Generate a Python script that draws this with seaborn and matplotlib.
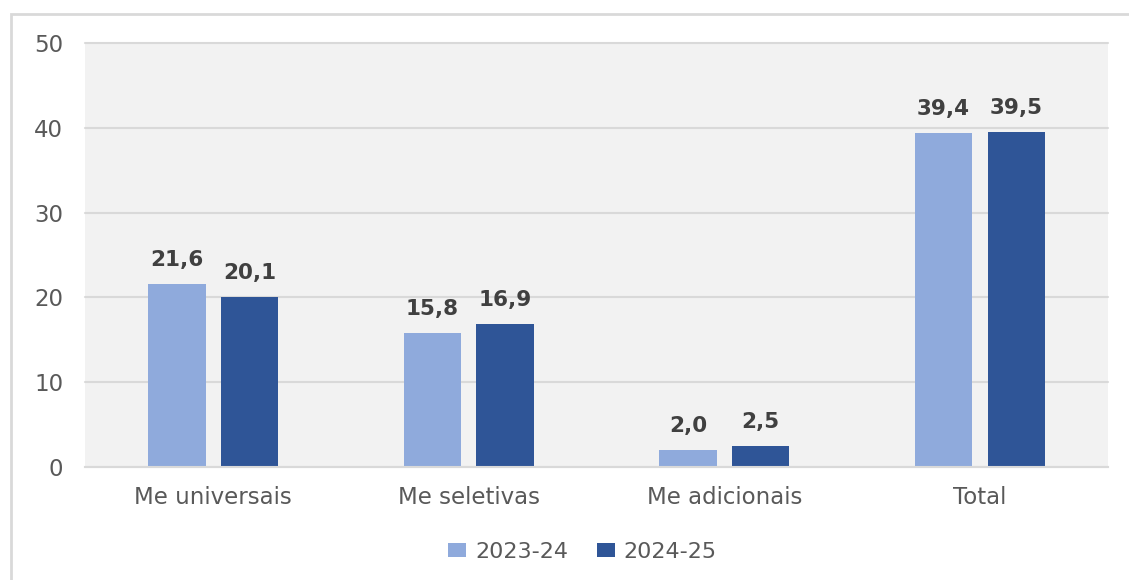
import pandas as pd
import seaborn as sns
import matplotlib.pyplot as plt
from matplotlib.patches import Rectangle

# values
categories = ['Me universais', 'Me seletivas', 'Me adicionais', 'Total']
years = ['2023-24', '2024-25']
vals_2023 = [21.6, 15.8, 2.0, 39.4]
vals_2024 = [20.1, 16.9, 2.5, 39.5]
colors = ['#8FAADC', '#2F5597']

df = pd.DataFrame({
    'Categoria': categories * 2,
    'Ano': [years[0]] * len(categories) + [years[1]] * len(categories),
    'Valor': vals_2023 + vals_2024,
})

sns.set_style('white')
plt.rcParams['font.family'] = ['DejaVu Sans']

fig = plt.figure(figsize=(11.29, 5.80), dpi=100)
ax = fig.add_axes([0.0756, 0.1948, 0.9055, 0.7310])
ax.set_facecolor('#F2F2F2')

sns.barplot(data=df, x='Categoria', y='Valor', hue='Ano', palette=colors,
            saturation=1, width=0.569, gap=0.21, linewidth=0, ax=ax)

for cont in ax.containers:
    ax.bar_label(cont, labels=[f'{v:.1f}'.replace('.', ',') for v in cont.datavalues],
                 padding=10, fontsize=15.5, fontweight='bold', color='#404040')

ax.set_ylim(0, 50)
ax.set_xlim(-0.5, 3.5)
ax.set_yticks(range(0, 51, 10))
ax.set_xlabel('')
ax.set_ylabel('')
ax.yaxis.grid(True, color='#D9D9D9', linewidth=1.5)
for gl in ax.get_ygridlines():
    gl.set_clip_on(False)
ax.set_axisbelow(True)
for s in ['top', 'right', 'left']:
    ax.spines[s].set_visible(False)
ax.spines['bottom'].set_color('#D9D9D9')
ax.spines['bottom'].set_linewidth(1.5)
ax.tick_params(axis='y', length=0, pad=16, labelsize=16.5, labelcolor='#595959')
ax.tick_params(axis='x', length=0, pad=14, labelsize=16.5, labelcolor='#595959')

handles, labels = ax.get_legend_handles_labels()
ax.legend(handles, labels, loc='center', bbox_to_anchor=(0.516, 0.048),
          bbox_transform=fig.transFigure, ncol=2, frameon=False, fontsize=16,
          labelcolor='#595959', handlelength=0.8, handleheight=0.6,
          handletextpad=0.4, columnspacing=1.3)

# outer chart frame (only top and left edges visible in the crop)
fig.add_artist(Rectangle((11 / 1129, -0.2), 1.5, 1.2 - 14 / 580,
                         transform=fig.transFigure, fill=False,
                         edgecolor='#D9D9D9', linewidth=2))

fig.savefig('out.png', dpi=100)
